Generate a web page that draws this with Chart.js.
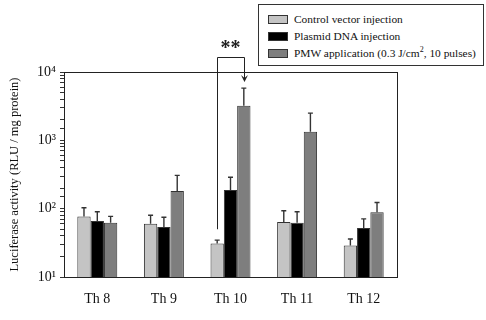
<!DOCTYPE html>
<html lang="en">
<head>
    <meta charset="UTF-8">
    <title>Luciferase activity</title>
    <style>
        body { margin: 0; background: #fff; }
        #wrap { position: relative; width: 486px; height: 320px; }
        #legendBox {
            position: absolute; left: 258px; top: 4px; width: 226px; height: 62px;
            border: 1px solid #333; box-sizing: border-box; background: #fff;
            font-family: "Liberation Serif", serif; font-size: 11.4px; color: #111;
        }
        #legendBox sup { font-size: 8px; line-height: 0; }
        .row { position: absolute; left: 9px; height: 14px; line-height: 14px; white-space: nowrap; }
        .sw { display: inline-block; width: 18px; height: 7px; border: 1px solid #333; vertical-align: middle; margin-right: 6px; position: relative; top: -1px; }
    </style>
</head>
<body>
<div id="wrap">
    <canvas id="chart" width="486" height="320"></canvas>
    <div id="legendBox"></div>
</div>

<script src="https://cdn.jsdelivr.net/npm/chart.js"></script>
<script>
    // data
    const categories = ['Th 8', 'Th 9', 'Th 10', 'Th 11', 'Th 12'];
    const seriesNames = ['Control vector injection', 'Plasmid DNA injection', 'PMW application (0.3 J/cm<sup>2</sup>, 10 pulses)'];

    const controlVals = [77, 60, 31, 64, 29];
    const controlErr  = [26, 20, 3.6, 29, 7];
    const plasmidVals = [66, 54, 187, 62, 52];
    const plasmidErr  = [24, 21, 101, 28, 19];
    const pmwVals     = [62, 181, 3200, 1330, 89];
    const pmwErr      = [15, 126, 2600, 1170, 34];

    const yTickPowers = [1, 2, 3, 4];
    const sup = { 1: '\u00b9', 2: '\u00b2', 3: '\u00b3', 4: '\u2074' };

    const colors = ['#c4c4c4', '#000000', '#7e7e7e'];
    const errs = [controlErr, plasmidErr, pmwErr];
    const serif = '"Liberation Serif", serif';

    // legend
    const lb = document.getElementById('legendBox');
    const rowTops = [7, 24, 41];
    seriesNames.forEach((n, i) => {
        const r = document.createElement('div');
        r.className = 'row';
        r.style.top = rowTops[i] + 'px';
        r.innerHTML = '<span class="sw" style="background:' + colors[i] + '"></span>' + n;
        lb.appendChild(r);
    });

    const errorBars = {
        id: 'errorBars',
        afterDatasetsDraw(chart) {
            const ctx = chart.ctx;
            const y = chart.scales.y;
            ctx.save();
            ctx.strokeStyle = '#333';
            ctx.lineWidth = 1.4;
            chart.data.datasets.forEach((ds, di) => {
                const meta = chart.getDatasetMeta(di);
                meta.data.forEach((bar, i) => {
                    const top = y.getPixelForValue(ds.data[i] + errs[di][i]);
                    ctx.beginPath();
                    ctx.moveTo(bar.x, bar.y);
                    ctx.lineTo(bar.x, top);
                    ctx.moveTo(bar.x - 2.5, top);
                    ctx.lineTo(bar.x + 2.5, top);
                    ctx.stroke();
                });
            });
            ctx.restore();
        }
    };

    const frame = {
        id: 'frame',
        afterDraw(chart) {
            const a = chart.chartArea;
            const ctx = chart.ctx;
            ctx.save();
            ctx.strokeStyle = '#222';
            ctx.lineWidth = 1;
            ctx.strokeRect(Math.round(a.left) + 0.5, Math.round(a.top) + 0.5,
                Math.round(a.right - a.left), Math.round(a.bottom - a.top));
            ctx.restore();
        }
    };

    // ** bracket between control and PMW at Th 10
    const bracket = {
        id: 'bracket',
        afterDraw(chart) {
            const ctx = chart.ctx;
            const y = chart.scales.y;
            const b0 = chart.getDatasetMeta(0).data[2];
            const b2 = chart.getDatasetMeta(2).data[2];
            const topY = 57.5;
            const leftEnd = y.getPixelForValue(50);
            const tip = y.getPixelForValue(7400);
            ctx.save();
            ctx.strokeStyle = '#222';
            ctx.lineWidth = 1;
            ctx.beginPath();
            ctx.moveTo(Math.round(b0.x) + 0.5, leftEnd);
            ctx.lineTo(Math.round(b0.x) + 0.5, topY);
            ctx.lineTo(Math.round(b2.x) + 0.5, topY);
            ctx.lineTo(Math.round(b2.x) + 0.5, tip);
            ctx.stroke();
            ctx.fillStyle = '#222';
            ctx.beginPath();
            ctx.moveTo(Math.round(b2.x) + 0.5, tip + 1);
            ctx.lineTo(Math.round(b2.x) - 3, tip - 6);
            ctx.lineTo(Math.round(b2.x) + 0.5, tip - 3);
            ctx.lineTo(Math.round(b2.x) + 4, tip - 6);
            ctx.closePath();
            ctx.fill();
            ctx.font = 'bold 20px ' + serif;
            ctx.textAlign = 'center';
            ctx.textBaseline = 'middle';
            ctx.fillText('**', (b0.x + b2.x) / 2, 49);
            ctx.restore();
        }
    };

    new Chart(document.getElementById('chart'), {
        type: 'bar',
        data: {
            labels: categories,
            datasets: [
                { label: 'Control vector injection', data: controlVals, backgroundColor: colors[0] },
                { label: 'Plasmid DNA injection', data: plasmidVals, backgroundColor: colors[1] },
                { label: 'PMW application', data: pmwVals, backgroundColor: colors[2] }
            ]
        },
        options: {
            responsive: false,
            animation: false,
            layout: { padding: { top: 72, right: 89, left: 0, bottom: 0 } },
            datasets: {
                bar: { categoryPercentage: 0.6, barPercentage: 1.0, borderWidth: 1, borderColor: '#333' }
            },
            plugins: { legend: { display: false }, tooltip: { enabled: false } },
            scales: {
                x: {
                    afterFit(s) { s.height = 43; },
                    grid: { display: false },
                    border: { display: true, color: '#222' },
                    ticks: { color: '#111', padding: 6, font: { family: serif, size: 14 } }
                },
                y: {
                    type: 'logarithmic',
                    min: 10,
                    max: 10000,
                    afterFit(s) { s.width = 64; },
                    grid: { drawOnChartArea: false, drawTicks: true, tickLength: 4, color: '#333' },
                    border: { display: true, color: '#222' },
                    title: {
                        display: true,
                        text: 'Luciferase activity (RLU / mg protein)',
                        color: '#111',
                        font: { family: serif, size: 12.5 },
                        padding: { top: 7, bottom: 0 }
                    },
                    ticks: {
                        autoSkip: false,
                        color: '#111',
                        padding: 4,
                        font: { family: serif, size: 14 },
                        callback(v) {
                            const p = Math.log10(v);
                            const r = Math.round(p);
                            if (Math.abs(p - r) < 1e-9 && yTickPowers.includes(r)) return '10' + sup[r];
                            return '';
                        }
                    }
                }
            }
        },
        plugins: [errorBars, frame, bracket]
    });
</script>
</body>
</html>
